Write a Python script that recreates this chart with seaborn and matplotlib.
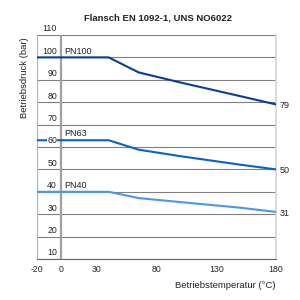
import matplotlib
matplotlib.use("Agg")
import matplotlib.pyplot as plt
import seaborn as sns
import pandas as pd

title = "Flansch EN 1092-1, UNS NO6022"
x_label = "Betriebstemperatur (°C)"
y_label = "Betriebsdruck (bar)"

temps = [-20, 40, 65, 100, 150, 180]
pn100 = [100, 100, 93.3, 88.8, 82.7, 79]
pn63 = [63, 63, 58.8, 55.9, 52.1, 50]
pn40 = [40, 40, 37.2, 35.4, 32.9, 31]
series_names = ["PN100", "PN63", "PN40"]
end_labels = ["79", "50", "31"]
x_ticks = [-20, 0, 30, 80, 130, 180]
y_ticks = [10, 20, 30, 40, 50, 60, 70, 80, 90, 100, 110]
colors = ["#0a3c9a", "#0a62c4", "#4b98e6"]

sns.set_theme(style="white")
plt.rcParams["font.family"] = ["Liberation Sans", "DejaVu Sans"]

rows = []
for name, vals in zip(series_names, [pn100, pn63, pn40]):
    for t, v in zip(temps, vals):
        rows.append({"T": t, "p": v, "series": name})
df = pd.DataFrame(rows)

fig = plt.figure(figsize=(3, 3), dpi=100)
ax = fig.add_axes([0.1233, 0.1367, 0.7967, 0.7467])

# gridlines
for yv in y_ticks:
    ax.axhline(yv, color="#808080", lw=0.8, zorder=1)
ax.axvline(0, color="#a0a0a0", lw=1.6, zorder=1)

sns.lineplot(data=df, x="T", y="p", hue="series", palette=dict(zip(series_names, colors)),
             hue_order=series_names, legend=False, lw=1.5, ax=ax, zorder=3)

ax.set_xlim(-20, 180)
ax.set_ylim(10, 110)
ax.set_xticks(x_ticks)
ax.set_xticklabels([str(t) for t in x_ticks], fontsize=6.3)
ax.set_yticks([])
ax.tick_params(axis="x", length=2, width=0.8, color="#555555", pad=2)
ax.set_xlabel("")
ax.set_ylabel("")

for s in ["left", "top"]:
    ax.spines[s].set_visible(False)
ax.spines["right"].set_color("#d4d4d4")
ax.spines["right"].set_linewidth(1.2)
ax.spines["bottom"].set_color("#666666")
ax.spines["bottom"].set_linewidth(0.8)
ax.axvline(-20, color="#b0b0b0", lw=0.8, zorder=1)

# y labels inside the plot
for yv in y_ticks:
    ax.text(-3.3, yv + 0.7, str(yv), ha="right", va="bottom", fontsize=6.3,
            color="#222222", zorder=4, clip_on=False,
            bbox=dict(fc="white", ec="none", pad=0.2))

# series labels
for name, vals in zip(series_names, [pn100, pn63, pn40]):
    ax.text(2.5, vals[0] + 0.8, name, ha="left", va="bottom", fontsize=6.5,
            color="#222222", zorder=4)
for lab, vals in zip(end_labels, [pn100, pn63, pn40]):
    ax.text(183, vals[-1] - 0.5, lab, ha="left", va="center", fontsize=6.5,
            color="#222222", clip_on=False)

fig.text(0.527, 0.94, title, ha="center", va="center", fontsize=6.8,
         fontweight="bold", color="#222222")
fig.text(0.92, 0.048, x_label, ha="right", va="center", fontsize=6.8, color="#222222")
fig.text(0.083, 0.875, y_label, ha="center", va="top", rotation=90,
         fontsize=6.8, color="#222222")

fig.savefig("out.png", dpi=100)
